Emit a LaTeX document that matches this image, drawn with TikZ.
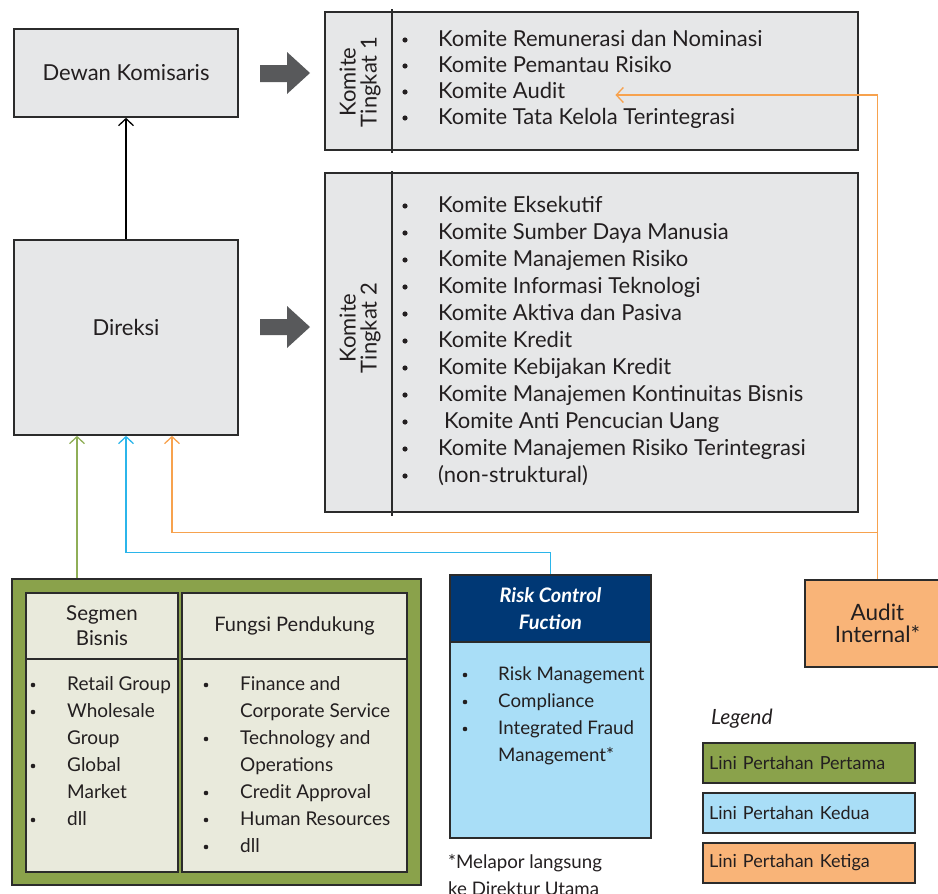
\documentclass[tikz,border=0pt]{standalone}
\usepackage{fontspec}
\setmainfont{Lato}
\usepackage{xcolor}
\usetikzlibrary{arrows.meta}

\definecolor{boxgray}{HTML}{E6E7E8}
\definecolor{edgegray}{HTML}{2B2B2B}
\definecolor{arrowgray}{HTML}{58595B}
\definecolor{lpgreen}{HTML}{8AA24B}
\definecolor{cellbeige}{HTML}{E9EADC}
\definecolor{rcfnavy}{HTML}{003875}
\definecolor{rcfsky}{HTML}{A9DEF7}
\definecolor{peach}{HTML}{F9B478}
\definecolor{linegreen}{HTML}{8FAE57}
\definecolor{lineblue}{HTML}{2BB5EA}
\definecolor{lineorange}{HTML}{F7A24E}
\definecolor{inktext}{HTML}{231F20}

\begin{document}
\begin{tikzpicture}[x=1pt, y=-1pt,
  box/.style={draw=edgegray, line width=1.6pt, inner sep=0pt, text=inktext,
    font=\fontsize{22}{24}\selectfont, align=center},
  item/.style={anchor=west, inner sep=0pt, text=inktext, text height=1.5ex, text depth=.3ex,
    font=\fontsize{22}{24}\selectfont},
  smallitem/.style={item, font=\fontsize{19}{20}\selectfont},
  legendbox/.style={draw=edgegray, line width=1.6pt, text width=200pt, inner xsep=6pt,
    minimum height=40pt, align=left, text=inktext, font=\fontsize{18}{20}\selectfont},
  link/.style={line width=1.3pt, -{Straight Barb[length=7pt, width=15pt]}}]
  \useasboundingbox (0,0) rectangle (938,894);

  % Draw the two top boxes
  \node[box, fill=boxgray, minimum width=224pt, minimum height=88pt] (dekom) at (126,73) {Dewan Komisaris};
  \node[box, fill=boxgray, minimum width=224pt, minimum height=195pt] (direksi) at (126,337.5) {};
  \node[text=inktext, font=\fontsize{22}{24}\selectfont] at ([yshift=10pt]direksi.center) {Direksi};
  \draw[link, black] (direksi.north) -- (dekom.south);

  % Big gray arrows
  \fill[arrowgray] (260,65) -- (287,65) -- (287,52) -- (310,73) -- (287,94) -- (287,82) -- (260,82) -- cycle;
  \fill[arrowgray] (260,319) -- (287,319) -- (287,306) -- (310,327) -- (287,348) -- (287,335) -- (260,335) -- cycle;

  % Komite Tingkat 1
  \node[box, fill=boxgray, minimum width=533pt, minimum height=138pt] (t1) at (591.5,81) {};
  \draw[edgegray, line width=1.6pt] (392,9) -- (392,153);
  \node[rotate=90, text=inktext, align=center, font=\fontsize{22}{21}\selectfont] (t1lab) at (360,82) {Komite\\Tingkat 1};
  \foreach \t [count=\i] in {Komite Remunerasi dan Nominasi, Komite Pemantau Risiko, Komite Audit,
      Komite Tata Kelola Terintegrasi} {
    \fill[inktext] (405,14+26*\i) circle (2.6pt);
    \node[item] (ka\i) at (438,17+26*\i) {\t};
  }

  % Komite Tingkat 2
  \node[box, fill=boxgray, minimum width=533pt, minimum height=339pt] (t2) at (591.5,342.5) {};
  \draw[edgegray, line width=1.6pt] (392,171) -- (392,516);
  \node[rotate=90, text=inktext, align=center, font=\fontsize{22}{21}\selectfont] (t2lab) at (360,328) {Komite\\Tingkat 2};
  \foreach \t [count=\i] in {Komite Eksekutif, Komite Sumber Daya Manusia, Komite Manajemen Risiko,
      Komite Informasi Teknologi, Komite Aktiva dan Pasiva, Komite Kredit, Komite Kebijakan Kredit,
      Komite Manajemen Kontinuitas Bisnis, \hspace{6pt}Komite Anti Pencucian Uang,
      Komite Manajemen Risiko Terintegrasi, (non-struktural)} {
    \fill[inktext] (405,179+27*\i) circle (2.6pt);
    \node[item] (kb\i) at (438,182+27*\i) {\t};
  }

  % Lini pertama: Segmen Bisnis and Fungsi Pendukung
  \node[box, fill=lpgreen, minimum width=409pt, minimum height=306pt] (grp) at (216.5,732) {};
  \node[box, fill=cellbeige, minimum width=152pt, minimum height=66pt, font=\fontsize{20.5}{25}\selectfont] (seghead) at (102,626) {Segmen\\Bisnis};
  \node[box, fill=cellbeige, minimum width=152pt, minimum height=213pt] (segbody) at (102,765.5) {};
  \node[box, fill=cellbeige, minimum width=225pt, minimum height=66pt, font=\fontsize{20}{25}\selectfont] (funhead) at (294.5,626) {Fungsi Pendukung};
  \node[box, fill=cellbeige, minimum width=225pt, minimum height=213pt] (funbody) at (294.5,765.5) {};
  \foreach \b/\t [count=\i] in {1/Retail Group, 1/Wholesale, 0/Group, 1/Global, 0/Market, 1/dll} {
    \ifnum\b=1 \fill[inktext] (33,658+27*\i) circle (2.3pt); \fi
    \node[smallitem] (sb\i) at (67,660+27*\i) {\t};
  }
  \foreach \b/\t [count=\i] in {1/Finance and, 0/Corporate Service, 1/Technology and, 0/Operations,
      1/Credit Approval, 1/Human Resources, 1/dll} {
    \ifnum\b=1 \fill[inktext] (206,658+27*\i) circle (2.3pt); \fi
    \node[smallitem] (fp\i) at (240,660+27*\i) {\t};
  }

  % Lini kedua: Risk Control Fuction
  \node[box, fill=rcfnavy, minimum width=201pt, minimum height=67pt, text=white,
    font=\fontsize{20}{27}\selectfont\bfseries\itshape] (rcfhead) at (550.5,608.5) {Risk Control\\Fuction};
  \node[box, fill=rcfsky, minimum width=201pt, minimum height=196pt] (rcfbody) at (550.5,740) {};
  \foreach \b/\t [count=\i] in {1/Risk Management, 1/Compliance, 1/Integrated Fraud, 0/Management*} {
    \ifnum\b=1 \fill[inktext] (465,648+27*\i) circle (2.3pt); \fi
    \node[smallitem, font=\fontsize{18.7}{20}\selectfont] (rc\i) at (498,650+27*\i) {\t};
  }
  \node[smallitem, font=\fontsize{18.7}{20}\selectfont] (note1) at (448,865) {*Melapor langsung};
  \node[smallitem, font=\fontsize{18.7}{20}\selectfont] (note2) at (448,892) {ke Direktur Utama};

  % Lini ketiga: Audit Internal
  \node[box, fill=peach, minimum width=145pt, minimum height=87pt, font=\fontsize{22.5}{22}\selectfont] (audit) at (877.5,623.5) {Audit\\Internal*};

  % Connectors
  \draw[link, linegreen] ([xshift=-49pt]direksi.south |- grp.north) -- ([xshift=-49pt]direksi.south);
  \draw[link, lineblue] (rcfhead.north) -- ++(0,-22) -| (direksi.south);
  \draw[link, lineorange] ([yshift=47pt]audit.north) -| ([xshift=46pt]direksi.south);
  \draw[link, lineorange] (audit.north) |- ([xshift=50pt]ka3.east);

  % Legend
  \node[item, font=\fontsize{21}{22}\selectfont\itshape] (legtitle) at (711,721) {Legend};
  \node[legendbox, fill=lpgreen] (leg1) at (809,763) {Lini Pertahan Pertama};
  \node[legendbox, fill=rcfsky] (leg2) at (809,813) {Lini Pertahan Kedua};
  \node[legendbox, fill=peach] (leg3) at (809,863) {Lini Pertahan Ketiga};
\end{tikzpicture}
\end{document}
